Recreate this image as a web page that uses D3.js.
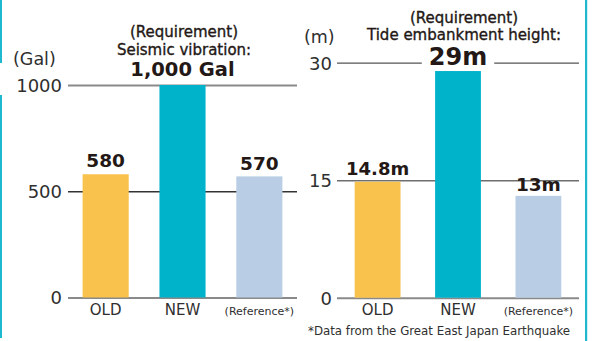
<!DOCTYPE html>
<html>
<head>
<meta charset="utf-8">
<script src="https://cdn.jsdelivr.net/npm/d3@7"></script>
<style>
  html, body { margin: 0; padding: 0; background: #fff; }
  svg { display: block; font-family: "DejaVu Sans", Verdana, sans-serif; }
</style>
</head>
<body>
<svg id="chart" width="602" height="341"></svg>
<script>
// Categories shared by both panels
const categories = ["OLD", "NEW", "(Reference*)"];

// Seismic vibration (Gal)
const seismicValues = [580, 1000, 570];
const seismicLabels = ["580", "1,000 Gal", "570"];
const seismicTicks = [0, 500, 1000];

// Tide embankment height (m)
const tideValues = [14.8, 29, 13];
const tideLabels = ["14.8m", "29m", "13m"];
const tideTicks = [0, 15, 30];

const barColors = ["#f8c24c", "#00b3cb", "#b9cee4"];
const ink = "#231815";
const soft = "#2f2f2f";

const svg = d3.select("#chart");

// Frame accents
const frame = "#1fb8d1";
svg.append("rect").attr("x", 0).attr("y", 0).attr("width", 2).attr("height", 63).attr("fill", frame);
svg.append("rect").attr("x", 0).attr("y", 95).attr("width", 2).attr("height", 243).attr("fill", frame);
svg.append("rect").attr("x", 585).attr("y", 0).attr("width", 2.2).attr("height", 341).attr("fill", frame);

function panel(cfg) {
  const g = svg.append("g");
  const x = d3.scaleBand().domain(categories)
    .range([cfg.x0, cfg.x1]).paddingInner(cfg.padIn).paddingOuter(cfg.padOut);
  const y = d3.scaleLinear().domain([0, cfg.max]).range([cfg.yBase, cfg.yTop]);

  // Gridlines with tick labels
  const axis = d3.axisLeft(y).tickValues(cfg.ticks).tickSize(-(cfg.x1 - cfg.x0))
    .tickPadding(cfg.tickPad).tickFormat(d3.format("d"));
  const ax = g.append("g").attr("transform", `translate(${cfg.x0},0)`).call(axis);
  ax.select(".domain").remove();
  ax.selectAll(".tick line")
    .attr("stroke", (d, i) => cfg.lineColors[i])
    .attr("stroke-width", (d, i) => cfg.lineWidths[i]);
  ax.selectAll(".tick text")
    .attr("fill", soft).attr("font-size", 18).attr("font-weight", 400)
    .attr("font-family", "DejaVu Sans, sans-serif").attr("dy", "0.36em");

  // Unit label
  g.append("text").attr("x", cfg.unitX).attr("y", cfg.unitY)
    .attr("fill", soft).attr("font-size", 17.5).attr("font-weight", 400)
    .text(cfg.unit);

  // Title
  cfg.title.forEach((t, i) => {
    g.append("text").attr("x", cfg.titleX).attr("y", cfg.titleY[i])
      .attr("text-anchor", "middle").attr("fill", ink)
      .attr("stroke", ink).attr("stroke-width", 0.35)
      .attr("font-size", 15).attr("font-weight", 400).text(t);
  });

  // Bars
  g.selectAll("rect.bar").data(cfg.values).join("rect").attr("class", "bar")
    .attr("x", (d, i) => x(categories[i]))
    .attr("width", x.bandwidth())
    .attr("y", d => y(d))
    .attr("height", d => y(0) - y(d))
    .attr("fill", (d, i) => barColors[i]);

  // Value labels (white knockout behind the headline value)
  const vals = g.selectAll("g.val").data(cfg.values).join("g").attr("class", "val");
  vals.each(function (d, i) {
    const cx = x(categories[i]) + x.bandwidth() / 2;
    const big = i === 1;
    const t = d3.select(this).append("text")
      .attr("x", cx).attr("y", y(d) - (big ? cfg.bigGap : cfg.gap[i]))
      .attr("text-anchor", "middle").attr("fill", ink)
      .attr("font-size", big ? cfg.bigSize : cfg.size[i])
      .attr("font-weight", 700)
      .text(cfg.labels[i]);
    if (big && cfg.knockout) {
      const b = t.node().getBBox();
      d3.select(this).insert("rect", "text")
        .attr("x", b.x - 7).attr("y", b.y).attr("width", b.width + 14).attr("height", b.height)
        .attr("fill", "#fff");
    }
  });

  // Category labels
  g.selectAll("text.cat").data(categories).join("text").attr("class", "cat")
    .attr("x", d => x(d) + x.bandwidth() / 2)
    .attr("y", 315)
    .attr("text-anchor", "middle").attr("fill", soft)
    .attr("font-size", (d, i) => i === 2 ? 11 : 15)
    .attr("font-weight", 400)
    .text(d => d);
}

panel({
  x0: 68, x1: 297, padIn: 0.4, padOut: 0.19,
  yBase: 297.5, yTop: 85, max: 1000,
  ticks: seismicTicks, tickPad: 6,
  lineColors: ["#8a8a8a", "#333333", "#8a8a8a"], lineWidths: [2, 1.5, 2],
  unit: "(Gal)", unitX: 13, unitY: 65,
  title: ["(Requirement)", "Seismic vibration:"], titleX: 184, titleY: [37, 55],
  values: seismicValues, labels: seismicLabels,
  size: [18.5, 0, 18.5], bigSize: 19.5, gap: [7.5, 0, 6], bigGap: 9, knockout: false
});

panel({
  x0: 337, x1: 579, padIn: 0.43, padOut: 0.22,
  yBase: 297.7, yTop: 62.7, max: 30,
  ticks: tideTicks, tickPad: 5,
  lineColors: ["#8a8a8a", "#6e6e6e", "#555555"], lineWidths: [2, 1.6, 1.3],
  unit: "(m)", unitX: 304, unitY: 43,
  title: ["(Requirement)", "Tide embankment height:"], titleX: 464, titleY: [23, 40],
  values: tideValues, labels: tideLabels,
  size: [18, 0, 18.5], bigSize: 24, gap: [7, 0, 5], bigGap: 5.5, knockout: true
});

// Footnote
svg.append("text").attr("x", 308).attr("y", 335)
  .attr("fill", soft).attr("font-size", 11.8).attr("font-weight", 400)
  .text("*Data from the Great East Japan Earthquake");
</script>
</body>
</html>
